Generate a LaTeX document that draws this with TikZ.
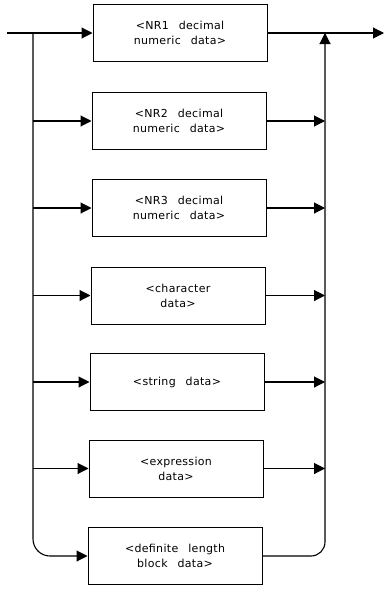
\documentclass[tikz,border=0pt]{standalone}
\usepackage{fontspec}
\newfontfamily\diagfont[LetterSpace=3,WordSpace=2.6]{DejaVu Sans}
\usetikzlibrary{arrows.meta}
\begin{document}
\begin{tikzpicture}[x=1pt,y=1pt,line width=1.1pt,
  box/.style={draw,line width=1pt,minimum width=174pt,minimum height=57pt,inner sep=0pt,align=center,
    font=\diagfont\fontsize{11}{15}\selectfont},
  arr/.style={-{Triangle[length=11pt,width=11pt]}}]
\useasboundingbox (0,0) rectangle (385,-592);
\coordinate (in) at (7,-33);
\coordinate (out) at (384,-33);
\coordinate (S) at (33,-33);
\coordinate (J) at (325,-33);
\node[box] (b1) at (180,-33) {<NR1 decimal\\numeric data>};
\node[box] (b2) at (179,-121) {<NR2 decimal\\numeric data>};
\node[box] (b3) at (179,-208) {<NR3 decimal\\numeric data>};
\node[box] (b4) at (178,-295.5) {<character\\data>};
\node[box] (b5) at (177,-382) {<string data>};
\node[box] (b6) at (176,-468.5) {<expression\\data>};
\node[box] (b7) at (175,-556) {<definite length\\block data>};
\draw[arr] (in) -- (b1.west);
\draw[arr] (b1.east) -- (out);
\draw[arr,rounded corners=17pt] (S) |- (b7.west);
\foreach \i in {2,...,6}{
  \draw[arr] (b\i.west -| S) -- (b\i.west);
  \draw[arr] (b\i.east) -- (b\i.east -| J);
}
\draw[arr,rounded corners=14pt] (b7.east) -| (J);
\end{tikzpicture}
\end{document}
